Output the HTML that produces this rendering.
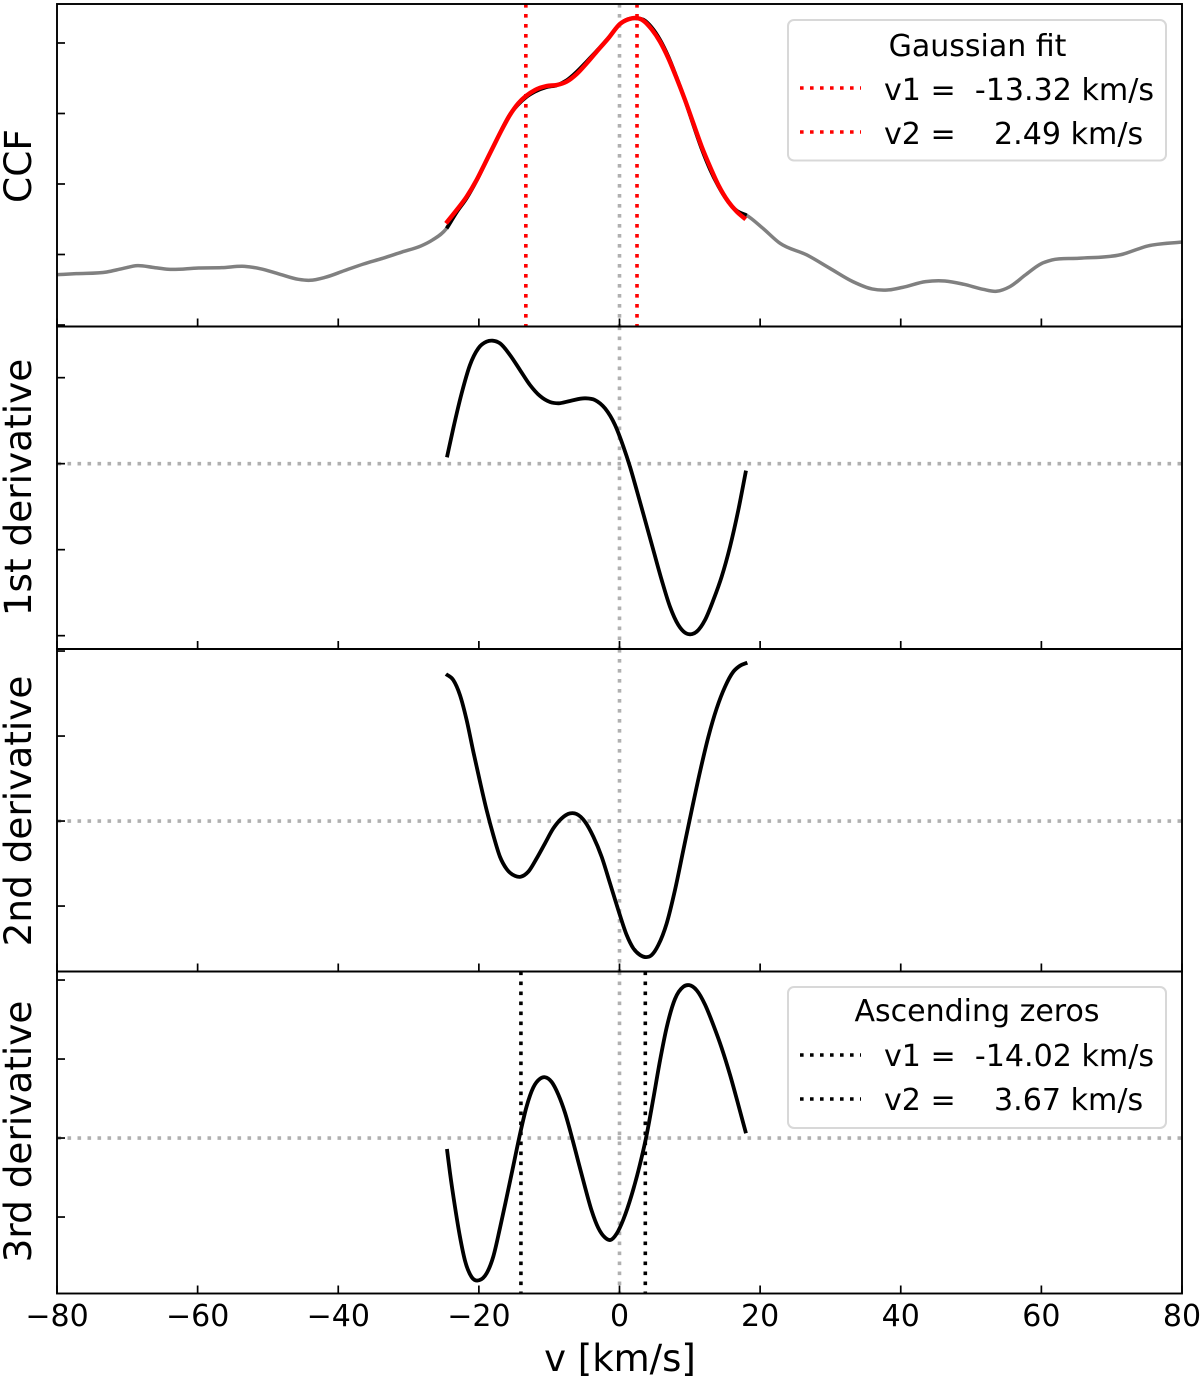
<!DOCTYPE html>
<html lang="en">
<head>
<meta charset="utf-8">
<title>CCF and derivatives</title>
<style>
html,body{margin:0;padding:0;background:#fff;}
svg{display:block;}
text{font-family:"DejaVu Sans","Liberation Sans",sans-serif;fill:#000;white-space:pre;}
</style>
</head>
<body>
<svg id="chart" xmlns="http://www.w3.org/2000/svg" width="1200" height="1378" viewBox="0 0 1200 1378">
  <g id="marks"></g>
  <g id="axes"></g>
  <g>
    <rect x="788" y="20" width="378" height="140.5" rx="6" fill="#fff" fill-opacity="0.9" stroke="#d8d8d8" stroke-width="2"/>
    <text x="977.5" y="56" font-size="30" text-anchor="middle">Gaussian fit</text>
    <line x1="800" x2="861" y1="88" y2="88" stroke="#ff0000" stroke-width="3.6" stroke-dasharray="3.6 6.4"/>
    <text x="884" y="100" font-size="30.1" xml:space="preserve">v1 =  -13.32 km/s</text>
    <line x1="800" x2="861" y1="132" y2="132" stroke="#ff0000" stroke-width="3.6" stroke-dasharray="3.6 6.4"/>
    <text x="884" y="144" font-size="30.1" xml:space="preserve">v2 =    2.49 km/s</text>
  </g>
  <g>
    <rect x="788" y="987" width="378" height="141" rx="6" fill="#fff" fill-opacity="0.9" stroke="#d8d8d8" stroke-width="2"/>
    <text x="977" y="1021" font-size="30" text-anchor="middle">Ascending zeros</text>
    <line x1="800" x2="861" y1="1055" y2="1055" stroke="#000" stroke-width="3.6" stroke-dasharray="3.6 6.4"/>
    <text x="884" y="1066" font-size="30.1" xml:space="preserve">v1 =  -14.02 km/s</text>
    <line x1="800" x2="861" y1="1099" y2="1099" stroke="#000" stroke-width="3.6" stroke-dasharray="3.6 6.4"/>
    <text x="884" y="1110" font-size="30.1" xml:space="preserve">v2 =    3.67 km/s</text>
  </g>
  <text x="620" y="1371" font-size="37" text-anchor="middle">v [km/s]</text>
  <text transform="translate(31,166) rotate(-90)" font-size="37.5" text-anchor="middle">CCF</text>
  <text transform="translate(31,487.5) rotate(-90)" font-size="37.4" text-anchor="middle">1st derivative</text>
  <text transform="translate(31,811) rotate(-90)" font-size="37.4" text-anchor="middle">2nd derivative</text>
  <text transform="translate(31,1131.5) rotate(-90)" font-size="37.4" text-anchor="middle">3rd derivative</text>
</svg>
<script>
// ---- data (km/s on x, arbitrary normalised units on y) ----
const xTickValues = [-80,-60,-40,-20,0,20,40,60,80];
const ccfTicks = [0,1,2,3,4];
const firstTicks = [-2,-1,0,1];
const secondTicks = [-1,0,1,2];
const thirdTicks = [-1,0,1,2];

const ccfVelocity = [-80,-77.27,-72.92,-70.74,-68.56,-66.38,-64.2,-59.84,-56.57,-53.3,-51.12,-48.39,-45.67,-44.03,-41.85,-39.13,-36.4,-33.68,-30.95,-28.23,-26.59,-24.58,-23.16,-21.74,-20.32,-19.13,-17.95,-16.76,-15.58,-14.39,-13.3,-12.02,-10.36,-8.94,-7.51,-6.09,-4.67,-3.25,-1.59,0.07,1.26,2.35,3.39,4.58,5.76,6.95,8.13,9.32,10.5,11.69,12.87,14.06,15.48,16.67,18.09,20.4,22.84,26.65,29.92,33.19,35.91,38.09,40.27,43.54,46.27,48.99,51.71,53.62,55.53,57.71,59.89,61.52,65.34,71.33,75.15,80];
const ccfValues = [0.714,0.728,0.752,0.799,0.842,0.818,0.79,0.809,0.813,0.832,0.799,0.723,0.648,0.634,0.676,0.771,0.865,0.946,1.035,1.121,1.206,1.371,1.6,1.8,2.05,2.29,2.53,2.77,2.985,3.13,3.23,3.31,3.375,3.4,3.47,3.59,3.735,3.885,4.07,4.27,4.34,4.35,4.33,4.22,4.045,3.805,3.51,3.19,2.84,2.5,2.21,1.97,1.745,1.62,1.555,1.371,1.158,0.993,0.804,0.615,0.511,0.496,0.534,0.615,0.624,0.577,0.506,0.478,0.544,0.709,0.865,0.922,0.946,0.998,1.121,1.177];
const fitRangeStart = -24.58;
const fitRangeEnd = 18.09;

const fitVelocity = [-24.68,-23.16,-21.74,-20.32,-19.13,-17.95,-16.76,-15.58,-14.39,-13.3,-12.02,-10.36,-8.94,-7.51,-6.09,-4.67,-3.25,-1.59,0.07,1.26,2.35,3.39,4.58,5.76,6.95,8.13,9.32,10.5,11.69,12.87,14.06,15.48,16.67,17.95];
const fitValues = [1.442,1.631,1.82,2.057,2.293,2.53,2.766,2.979,3.144,3.248,3.333,3.39,3.404,3.452,3.56,3.712,3.877,4.066,4.27,4.336,4.355,4.317,4.194,4.019,3.783,3.499,3.191,2.861,2.53,2.246,1.986,1.749,1.608,1.499];

const firstVelocity = [-24.54,-23.64,-22.45,-21.27,-20.08,-18.9,-18.04,-17,-15.58,-14.15,-12.73,-11.31,-9.89,-8.7,-7.04,-4.91,-3.49,-2.06,-0.64,0.55,1.49,2.44,3.63,4.81,6,7.18,8.37,9.32,10.03,10.98,12.16,13.35,14.53,15.72,16.9,17.99];
const firstValues = [0.074,0.411,0.818,1.147,1.341,1.419,1.43,1.399,1.264,1.089,0.915,0.787,0.717,0.702,0.729,0.76,0.74,0.643,0.45,0.198,-0.035,-0.306,-0.655,-1.004,-1.353,-1.663,-1.876,-1.965,-1.984,-1.953,-1.818,-1.585,-1.314,-0.965,-0.539,-0.081];

const secondVelocity = [-24.68,-23.64,-22.69,-21.74,-20.79,-19.84,-18.9,-17.95,-17,-16.05,-14.86,-14.06,-12.97,-11.78,-10.6,-9.41,-8.23,-7.04,-6.09,-4.91,-3.72,-2.54,-1.35,-0.17,1.02,1.97,2.92,3.63,4.58,5.52,6.71,7.89,9.08,10.27,11.45,12.64,13.82,15.01,16.19,17.14,18.18];
const secondValues = [1.729,1.659,1.482,1.188,0.816,0.463,0.129,-0.165,-0.42,-0.565,-0.645,-0.655,-0.596,-0.439,-0.263,-0.086,0.031,0.09,0.082,-0.008,-0.184,-0.42,-0.733,-1.047,-1.341,-1.498,-1.576,-1.6,-1.576,-1.459,-1.204,-0.812,-0.341,0.129,0.58,0.992,1.325,1.58,1.757,1.827,1.863];

const thirdVelocity = [-24.54,-24.11,-23.4,-22.69,-21.98,-21.03,-19.94,-18.9,-17.95,-17,-16.05,-15.1,-14.15,-13.21,-12.26,-11.31,-10.6,-9.65,-8.7,-7.75,-6.8,-5.86,-4.91,-3.96,-3.01,-2.06,-1.26,-0.4,0.55,1.73,2.92,3.86,4.81,5.76,6.71,7.89,9.08,9.93,10.98,12.16,13.35,14.53,15.72,16.9,17.99];
const thirdValues = [-0.139,-0.44,-0.87,-1.25,-1.55,-1.76,-1.8,-1.713,-1.5,-1.14,-0.75,-0.35,0.05,0.4,0.64,0.75,0.77,0.71,0.55,0.32,0.02,-0.3,-0.62,-0.92,-1.14,-1.26,-1.29,-1.21,-1.03,-0.72,-0.33,0.04,0.5,0.98,1.4,1.76,1.915,1.935,1.87,1.69,1.43,1.14,0.8,0.42,0.06];

const gaussianCentres = [-13.32,2.49];
const ascendingZeros = [-14.02,3.67];

// ---- scales ----
const SVGNS = 'http://www.w3.org/2000/svg';
const plotLeft = 57, plotRight = 1182;
const xMin = -80, xMax = 80;
function xScale(v){ return plotLeft + (v - xMin) * (plotRight - plotLeft) / (xMax - xMin); }
function yScaleFor(top, bottom, dMin, dMax){
  return function(v){ return bottom - (v - dMin) * (bottom - top) / (dMax - dMin); };
}
const panels = [
  {key:'ccf', top:4, bottom:326.5, y:yScaleFor(4,326.5,-0.0213,4.553), ticks:ccfTicks, zero:false},
  {key:'first', top:326.5, bottom:649, y:yScaleFor(326.5,649,-2.155,1.595), ticks:firstTicks, zero:true},
  {key:'second', top:649, bottom:971.5, y:yScaleFor(649,971.5,-1.77,2.024), ticks:secondTicks, zero:true},
  {key:'third', top:971.5, bottom:1293.5, y:yScaleFor(971.5,1293.5,-1.968,2.108), ticks:thirdTicks, zero:true}
];
// Hermite spline in x: tangents are spacing-weighted averages of neighbouring secants
function splinePath(xs, ys, yFn){
  const px = xs.map(xScale);
  const py = ys.map(yFn);
  const n = px.length;
  const m = new Array(n);
  for (let i = 0; i < n; i++) {
    if (i === 0) { m[i] = (py[1]-py[0])/(px[1]-px[0]); }
    else if (i === n-1) { m[i] = (py[n-1]-py[n-2])/(px[n-1]-px[n-2]); }
    else {
      const h0 = px[i]-px[i-1], h1 = px[i+1]-px[i];
      const s0 = (py[i]-py[i-1])/h0, s1 = (py[i+1]-py[i])/h1;
      m[i] = (s0*h1 + s1*h0)/(h0+h1);
    }
  }
  let d = 'M' + px[0].toFixed(2) + ' ' + py[0].toFixed(2);
  for (let i = 0; i < n-1; i++) {
    const h = (px[i+1]-px[i])/3;
    d += 'C' + (px[i]+h).toFixed(2) + ' ' + (py[i]+m[i]*h).toFixed(2) + ' ' + (px[i+1]-h).toFixed(2) + ' ' + (py[i+1]-m[i+1]*h).toFixed(2) + ' ' + px[i+1].toFixed(2) + ' ' + py[i+1].toFixed(2);
  }
  return d;
}
const marks = document.getElementById('marks');
const axes = document.getElementById('axes');
const DOT = '3.6 6.4';
const ZERO_GREY = '#b0b0b0';

function drawDotted(x1,y1,x2,y2,color){
  const ln = document.createElementNS(SVGNS,'line');
  ln.setAttribute('x1',x1); ln.setAttribute('y1',y1);
  ln.setAttribute('x2',x2); ln.setAttribute('y2',y2);
  ln.setAttribute('stroke',color);
  ln.setAttribute('stroke-width','3.6');
  ln.setAttribute('stroke-dasharray',DOT);
  marks.appendChild(ln);
  return ln;
}
function drawCurve(xs,ys,yFn,color,width){
  const path = document.createElementNS(SVGNS,'path');
  path.setAttribute('d',splinePath(xs,ys,yFn));
  path.setAttribute('fill','none');
  path.setAttribute('stroke',color);
  path.setAttribute('stroke-width',width);
  marks.appendChild(path);
  return path;
}

// zero reference lines and velocity markers
panels.forEach(function(pn){
  const v0 = drawDotted(xScale(0),pn.top,xScale(0),pn.bottom-1,ZERO_GREY);
  
  
  if (pn.zero) {
    const h0 = drawDotted(plotLeft+0.5,pn.y(0),plotRight,pn.y(0),ZERO_GREY);
    
    
  }
});

// CCF panel
const ccfPanel = panels[0];
const ccfLine = drawCurve(ccfVelocity,ccfValues,ccfPanel.y,'#808080','3.5');


const fitIdx = ccfVelocity.map(function(v,i){ return (v >= fitRangeStart && v <= fitRangeEnd) ? i : -1; }).filter(function(i){ return i >= 0; });
const ccfSegment = drawCurve(fitIdx.map(function(i){ return ccfVelocity[i]; }),fitIdx.map(function(i){ return ccfValues[i]; }),ccfPanel.y,'#000','3.8');


const fitLine = drawCurve(fitVelocity,fitValues,ccfPanel.y,'#ff0000','4.4');


gaussianCentres.forEach(function(v,i){
  const ln = drawDotted(xScale(v),ccfPanel.top,xScale(v),ccfPanel.bottom-1,'#ff0000');
  
  
});

// derivative panels
const firstLine = drawCurve(firstVelocity,firstValues,panels[1].y,'#000','3.8');


const secondLine = drawCurve(secondVelocity,secondValues,panels[2].y,'#000','3.8');


ascendingZeros.forEach(function(v,i){
  const ln = drawDotted(xScale(v),panels[3].top,xScale(v),panels[3].bottom-1,'#000');
  
  
});
const thirdLine = drawCurve(thirdVelocity,thirdValues,panels[3].y,'#000','3.8');



// axes, ticks, labels
panels.forEach(function(pn,pi){
  const frame = document.createElementNS(SVGNS,'rect');
  frame.setAttribute('x',plotLeft);
  frame.setAttribute('y',pn.top);
  frame.setAttribute('width',plotRight-plotLeft);
  frame.setAttribute('height',pn.bottom-pn.top);
  frame.setAttribute('fill','none');
  frame.setAttribute('stroke','#000');
  frame.setAttribute('stroke-width','1.9');
  
  
  axes.appendChild(frame);
  xTickValues.forEach(function(t){
    const tick = document.createElementNS(SVGNS,'line');
    tick.setAttribute('x1',xScale(t));
    tick.setAttribute('x2',xScale(t));
    tick.setAttribute('y1',pn.bottom);
    tick.setAttribute('y2',pn.bottom-8);
    tick.setAttribute('stroke','#000');
    tick.setAttribute('stroke-width','1.7');
    
    
    axes.appendChild(tick);
    if (pi === panels.length-1) {
      const lab = document.createElementNS(SVGNS,'text');
      lab.setAttribute('x',xScale(t));
      lab.setAttribute('y',1326);
      lab.setAttribute('font-size','30');
      lab.setAttribute('text-anchor','middle');
      
      
      lab.textContent = String(t).replace('-','\u2212');
      axes.appendChild(lab);
    }
  });
  pn.ticks.forEach(function(t){
    const tick = document.createElementNS(SVGNS,'line');
    tick.setAttribute('x1',plotLeft);
    tick.setAttribute('x2',plotLeft+8);
    tick.setAttribute('y1',pn.y(t));
    tick.setAttribute('y2',pn.y(t));
    tick.setAttribute('stroke','#000');
    tick.setAttribute('stroke-width','1.7');
    
    
    axes.appendChild(tick);
  });
});
</script>
</body>
</html>
